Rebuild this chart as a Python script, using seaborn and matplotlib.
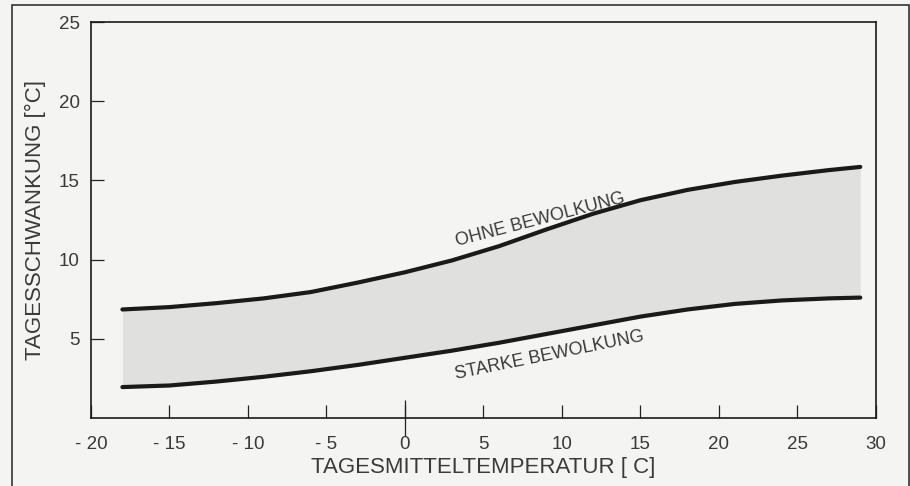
import matplotlib
matplotlib.use("Agg")
import matplotlib.pyplot as plt
import pandas as pd
import seaborn as sns
from matplotlib.patches import Rectangle

# Werte
temp = [-18, -15, -12, -9, -6, -3, 0, 3, 6, 9, 12, 15, 18, 21, 24, 27, 29]
ohne_bewoelkung = [6.85, 7.0, 7.25, 7.55, 7.95, 8.55, 9.2, 9.95, 10.85, 11.9, 12.9,
                   13.75, 14.4, 14.9, 15.3, 15.65, 15.85]
starke_bewoelkung = [1.95, 2.05, 2.3, 2.6, 2.95, 3.35, 3.8, 4.25, 4.75, 5.3, 5.85,
                     6.4, 6.85, 7.2, 7.42, 7.55, 7.6]

x_ticks = [-20, -15, -10, -5, 0, 5, 10, 15, 20, 25, 30]
x_labels = ["- 20", "- 15", "- 10", "- 5", "0", "5", "10", "15", "20", "25", "30"]
y_ticks = [5, 10, 15, 20, 25]

df = pd.DataFrame({"temp": temp, "ohne": ohne_bewoelkung, "starke": starke_bewoelkung})

sns.set_style("white")
plt.rcParams["font.family"] = ["Liberation Sans", "DejaVu Sans"]
bg = "#f4f4f2"
txt = "#3a3a3a"

fig = plt.figure(figsize=(9.1, 4.86), dpi=100, facecolor=bg)
ax = fig.add_axes([0.1, 0.14, 0.8626, 0.8147])
ax.set_facecolor(bg)

ax.fill_between(df["temp"], df["starke"], df["ohne"], color="#e0e0de", lw=0)
sns.lineplot(x="temp", y="ohne", data=df, ax=ax, color="#1a1a1a", lw=3)
sns.lineplot(x="temp", y="starke", data=df, ax=ax, color="#1a1a1a", lw=3)

ax.set_xlim(-20, 30)
ax.set_ylim(0, 25)
ax.set_xticks(x_ticks)
ax.set_xticklabels(x_labels)
ax.set_yticks(y_ticks)
ax.xaxis.remove_overlapping_locs = False
ax.set_xticks([0], minor=True)
ax.tick_params(axis="both", which="major", direction="in", length=9.5, width=0.9,
               color="#222222", labelsize=13.5, labelcolor=txt,
               bottom=True, left=True)
ax.tick_params(axis="x", which="major", pad=13)
ax.tick_params(axis="y", which="major", pad=8)
ax.tick_params(axis="x", which="minor", direction="inout", length=26, width=0.9,
               color="#222222", bottom=True)

for s in ax.spines.values():
    s.set_color("#1a1a1a")
    s.set_linewidth(1.2)

ax.set_xlabel("TAGESMITTELTEMPERATUR [ C]", fontsize=16, color=txt, labelpad=3)
ax.set_ylabel("TAGESSCHWANKUNG [°C]", fontsize=16, color=txt, labelpad=9)

ax.text(8.6, 12.5, "OHNE BEWOLKUNG", rotation=14.5, fontsize=13, color=txt,
        ha="center", va="center")
ax.text(9.2, 3.95, "STARKE BEWOLKUNG", rotation=11.5, fontsize=13, color=txt,
        ha="center", va="center")

# aeusserer Rahmen
fig.patches.append(Rectangle((12 / 910, -0.01), (909 - 12) / 910, 1 - 5 / 486 + 0.01,
                             transform=fig.transFigure, fill=False, lw=1.2,
                             edgecolor="#333333"))

fig.savefig("out.png", dpi=100, facecolor=bg)
